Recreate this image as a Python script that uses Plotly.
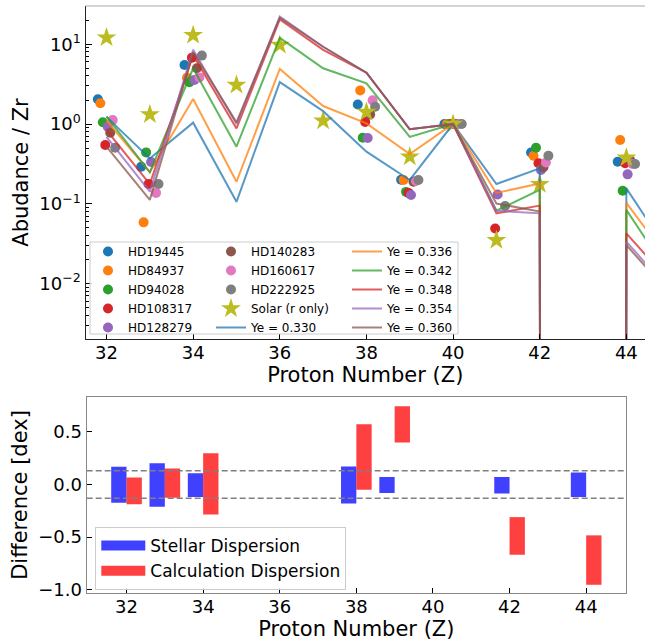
import numpy as np
import plotly.graph_objects as go

# ---------------- data: top panel ----------------
line_Z = [32, 33, 34, 35, 36, 37, 38, 39, 40, 41, 42, 43, 44, 45]
ye_labels = ["Ye = 0.330", "Ye = 0.336", "Ye = 0.342", "Ye = 0.348", "Ye = 0.354", "Ye = 0.360"]
ye_330 = [1.23, 0.37, 1.04, 0.106, 3.35, 1.45, 0.45, 0.199, 1.0, 0.177, 0.278, 0.0, 0.156, 0.0237]
ye_336 = [1.10, 0.25, 2.06, 0.189, 4.9, 1.68, 1.02, 0.42, 1.0, 0.137, 0.18, 0.0, 0.103, 0.0192]
ye_342 = [1.25, 0.248, 5.0, 0.52, 12.0, 5.0, 3.24, 0.69, 1.0, 0.082, 0.15, 0.0, 0.084, 0.0127]
ye_348 = [0.84, 0.177, 7.3, 0.88, 20.5, 8.5, 4.4, 0.86, 1.0, 0.076, 0.095, 0.0, 0.0426, 0.0105]
ye_354 = [0.69, 0.142, 8.5, 1.0, 22.2, 9.3, 4.4, 0.86, 1.0, 0.082, 0.076, 0.0, 0.0336, 0.0082]
ye_360 = [0.52, 0.112, 7.9, 1.05, 21.5, 9.3, 4.4, 0.86, 1.0, 0.101, 0.08, 0.0, 0.0305, 0.0074]

star_Z = [32, 33, 34, 38, 39, 40, 41, 42, 44]
star_names = ["HD19445", "HD84937", "HD94028", "HD108317", "HD128279",
              "HD140283", "HD160617", "HD222925"]
HD19445 = [2.04, 0.291, 5.49, 1.76, 0.20, 1.0, None, 0.44, 0.337]
HD84937 = [1.82, 0.0586, 3.81, 2.64, 0.199, 1.0, None, 0.40, 0.63]
HD94028 = [1.05, 0.441, 3.33, 0.674, 0.141, 1.0, None, 0.505, 0.146]
HD108317 = [0.546, 0.177, 6.79, 1.06, 0.137, 1.0, 0.049, 0.322, 0.322]
HD128279 = [0.925, 0.334, 3.56, 0.667, 0.129, 1.0, 0.131, 0.265, 0.234]
HD140283 = [0.78, None, 4.99, 1.32, 0.189, 1.0, None, 0.287, 0.354]
HD160617 = [1.12, 0.137, 3.84, 1.98, 0.193, 1.0, None, 0.33, 0.315]
HD222925 = [0.505, 0.177, 7.2, 1.65, 0.199, 1.0, 0.094, 0.40, 0.315]

solar_Z = [32, 33, 34, 35, 36, 37, 38, 39, 40, 41, 42, 44]
solar_r = [12.1, 1.32, 13.0, 3.08, 9.77, 1.1, 1.41, 0.389, 1.0, 0.035, 0.176, 0.378]

# ---------------- data: bottom panel ----------------
disp_Z = [32, 33, 34, 38, 39, 42, 44]
stellar_lo = [-0.174, -0.212, -0.12, -0.18, -0.08, -0.085, -0.12]
stellar_hi = [0.167, 0.202, 0.107, 0.17, 0.072, 0.072, 0.114]
calc_lo = [-0.187, -0.127, -0.284, -0.051, 0.398, -0.667, -0.952]
calc_hi = [0.066, 0.152, 0.297, 0.571, 0.742, -0.31, -0.483]
dispersion_band = 0.13

xticks = [32, 34, 36, 38, 40, 42, 44]

# ---------------- styling ----------------
W, H = 645, 644
FONT = "DejaVu Sans"
tab10 = ["#1f77b4", "#ff7f0e", "#2ca02c", "#d62728", "#9467bd",
         "#8c564b", "#e377c2", "#7f7f7f", "#bcbd22"]


def fx(p):
    return p / W


def fy(p):
    return 1 - p / H


fig = go.Figure()

# star scatter points, each star slightly offset in Z
star_vals = [HD19445, HD84937, HD94028, HD108317, HD128279, HD140283, HD160617, HD222925]
offsets = np.linspace(-0.2, 0.2, len(star_names))
legend_of_star = ["legend"] * 5 + ["legend2"] * 3
for i, (name, vals) in enumerate(zip(star_names, star_vals)):
    y = [np.nan if v is None else v for v in vals]
    fig.add_trace(go.Scatter(
        x=np.array(star_Z) + offsets[i], y=y, mode="markers", name=name,
        marker=dict(size=10, color=tab10[i], line=dict(width=0)),
        legend=legend_of_star[i], xaxis="x", yaxis="y"))

fig.add_trace(go.Scatter(
    x=solar_Z, y=solar_r, mode="markers", name="Solar (r only)",
    marker=dict(size=15, symbol="star", color=tab10[8], line=dict(width=0)),
    legend="legend2", xaxis="x", yaxis="y"))

ye_series = [ye_330, ye_336, ye_342, ye_348, ye_354, ye_360]
for i, (lab, vals) in enumerate(zip(ye_labels, ye_series)):
    # non-positive abundances clipped to a tiny value (log axis), as matplotlib does
    y = np.clip(np.array(vals, dtype=float), 1e-300, None)
    fig.add_trace(go.Scatter(
        x=line_Z, y=y, mode="lines", name=lab,
        line=dict(color=tab10[i], width=2), opacity=0.75,
        legend="legend2" if i == 0 else "legend3", xaxis="x", yaxis="y"))

# bottom panel bars
dz = np.array(disp_Z, dtype=float)
slo, shi = np.array(stellar_lo), np.array(stellar_hi)
clo, chi = np.array(calc_lo), np.array(calc_hi)
fig.add_trace(go.Bar(x=dz - 0.2, y=shi - slo, base=slo, width=0.4,
                     marker=dict(color="rgba(0,0,255,0.75)", line=dict(width=0)),
                     showlegend=False, xaxis="x2", yaxis="y2", name="Stellar Dispersion"))
fig.add_trace(go.Bar(x=dz + 0.2, y=chi - clo, base=clo, width=0.4,
                     marker=dict(color="rgba(255,0,0,0.75)", line=dict(width=0)),
                     showlegend=False, xaxis="x2", yaxis="y2", name="Calculation Dispersion"))
# legend proxies for the bars
for name, col in [("Stellar Dispersion", "rgba(0,0,255,0.75)"),
                  ("Calculation Dispersion", "rgba(255,0,0,0.75)")]:
    fig.add_trace(go.Scatter(x=[None], y=[None], mode="lines", name=name,
                             line=dict(color=col, width=14),
                             legend="legend4", xaxis="x2", yaxis="y2"))

# dashed dispersion band
for yv in (dispersion_band, -dispersion_band):
    fig.add_shape(type="line", xref="x2 domain", x0=0, x1=1, yref="y2", y0=yv, y1=yv,
                  line=dict(color="gray", width=1.5, dash="6px,3px"))

# top spine of upper panel
fig.add_shape(type="line", xref="paper", yref="paper", x0=fx(85.5), x1=1,
              y0=fy(6), y1=fy(6), line=dict(color="#aaaaaa", width=1.2))
# legend frame of upper panel
fig.add_shape(type="rect", xref="paper", yref="paper", x0=fx(90), x1=fx(458),
              y0=fy(334), y1=fy(242), layer="above",
              fillcolor="rgba(255,255,255,0.8)", line=dict(color="#cccccc", width=1))

major_y = [1e-2, 1e-1, 1e0, 1e1]
major_text = ["10<sup>−2</sup>", "10<sup>−1</sup>", "10<sup>0</sup>", "10<sup>1</sup>"]
minor_y = [k * 10.0 ** n for n in range(-3, 2) for k in range(2, 10)]

tickfont = dict(family=FONT, size=18, color="black")
titlefont = dict(family=FONT, size=21, color="black")
legfont = dict(family=FONT, size=12, color="black")
LEG_TOP = 237

fig.update_layout(
    width=W, height=H, margin=dict(l=0, r=0, t=0, b=0, autoexpand=False),
    paper_bgcolor="white", plot_bgcolor="white",
    font=dict(family=FONT, color="black"),
    barmode="overlay",
    xaxis=dict(domain=[fx(85.5), 1], range=[31.515, 44.43], anchor="y", automargin=False,
               showgrid=False, zeroline=False, showline=True, linecolor="#222", linewidth=1.2,
               ticks="inside", ticklen=5, tickwidth=1, tickcolor="black",
               tickvals=xticks, tickfont=tickfont, ticklabelstandoff=-3,
               title=dict(text="Proton Number (Z)", font=titlefont, standoff=0)),
    yaxis=dict(domain=[fy(339), fy(6)], type="log", range=[-2.694, 1.479], anchor="x",
               automargin=False,
               showgrid=False, zeroline=False, showline=True, linecolor="#222", linewidth=1.2,
               ticks="inside", ticklen=6, tickwidth=1, tickcolor="black",
               tickvals=major_y, ticktext=major_text, tickfont=tickfont,
               minor=dict(tickvals=minor_y, ticks="inside", ticklen=3, tickwidth=1,
                          tickcolor="black", showgrid=False),
               title=dict(text="Abudance / Zr", font=titlefont, standoff=4)),
    xaxis2=dict(domain=[fx(86.7), fx(626)], range=[30.96, 45.04], anchor="y2",
                automargin=False,
                showgrid=False, zeroline=False, showline=True, mirror=True,
                linecolor="#888", linewidth=1.2,
                ticks="inside", ticklen=5, tickwidth=1, tickcolor="black",
                tickvals=xticks, tickfont=tickfont, ticklabelstandoff=-3,
                title=dict(text="Proton Number (Z)", font=titlefont, standoff=0)),
    yaxis2=dict(domain=[fy(593), fy(397)], range=[-1.03, 0.83], anchor="x2",
                automargin=False,
                showgrid=False, zeroline=False, showline=True, mirror=True,
                linecolor="#888", linewidth=1.2,
                ticks="inside", ticklen=5, tickwidth=1, tickcolor="black",
                tickvals=[-1.0, -0.5, 0.0, 0.5], tickformat=".1f", tickfont=tickfont,
                title=dict(text="Difference [dex]", font=titlefont, standoff=4)),
    legend=dict(x=fx(88), y=fy(LEG_TOP), xanchor="left", yanchor="top",
                bgcolor="rgba(0,0,0,0)", borderwidth=0, font=legfont, tracegroupgap=0),
    legend2=dict(x=fx(211), y=fy(LEG_TOP), xanchor="left", yanchor="top",
                 bgcolor="rgba(0,0,0,0)", borderwidth=0, font=legfont, tracegroupgap=0),
    legend3=dict(x=fx(347), y=fy(LEG_TOP), xanchor="left", yanchor="top",
                 bgcolor="rgba(0,0,0,0)", borderwidth=0, font=legfont, tracegroupgap=0),
    legend4=dict(x=fx(95.3), y=fy(527), xanchor="left", yanchor="top",
                 bgcolor="rgba(255,255,255,0.8)", bordercolor="#cccccc", borderwidth=1,
                 itemwidth=44,
                 font=dict(family=FONT, size=17, color="black"), tracegroupgap=0),
)

fig.write_html("out.html", config={"displayModeBar": False},
               post_script="document.body.style.margin='0';document.body.style.overflow='hidden';")
